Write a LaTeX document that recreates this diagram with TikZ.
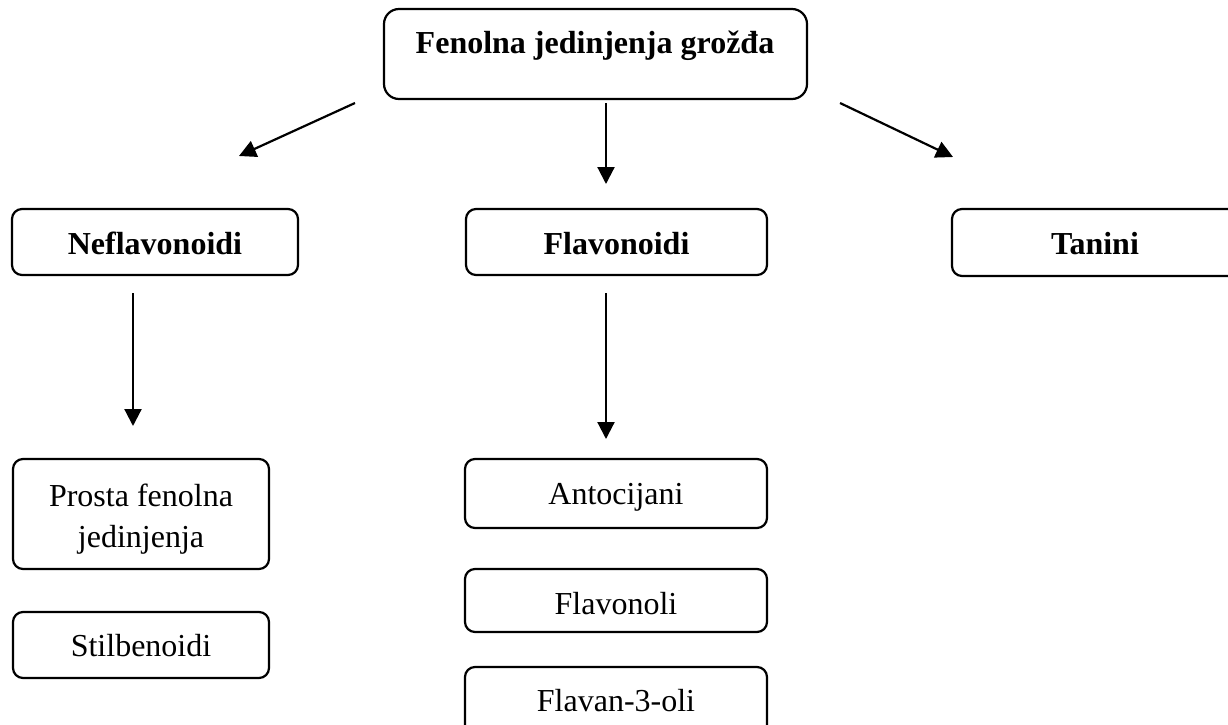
\documentclass[tikz,border=0pt]{standalone}
\usepackage{fontspec}
\setmainfont{Liberation Serif}
\usetikzlibrary{arrows.meta}
\begin{document}
\begin{tikzpicture}[x=1pt,y=-1pt,
  box/.style={draw, line width=2.2pt, rounded corners=10pt, inner sep=0pt},
  txt/.style={anchor=base, inner sep=0pt, font=\fontsize{32}{42}\selectfont},
  btxt/.style={anchor=base, inner sep=0pt, font=\fontsize{32}{42}\selectfont\bfseries},
  arr/.style={line width=2.2pt, -{Triangle[length=17pt,width=17pt]}}]
\useasboundingbox (0,0) rectangle (1228,725);
\clip (0,0) rectangle (1228,725);
% boxes
\node[box, rounded corners=15pt, minimum width=423pt, minimum height=90pt] (top) at (595.5,54) {};
\node[box, minimum width=286pt, minimum height=66pt] (nefl) at (155,242) {};
\node[box, minimum width=301pt, minimum height=66pt] (flav) at (616.5,242) {};
\node[box, minimum width=298pt, minimum height=67pt] (tan) at (1101,242.5) {};
\node[box, minimum width=256pt, minimum height=110pt] (pros) at (141,514) {};
\node[box, minimum width=256pt, minimum height=66pt] (stil) at (141,645) {};
\node[box, minimum width=302pt, minimum height=69pt] (anto) at (616,493.5) {};
\node[box, minimum width=302pt, minimum height=63pt] (fnol) at (616,600.5) {};
\node[box, minimum width=302pt, minimum height=68pt] (fan) at (616,701) {};
% texts
\node[btxt] (ttop) at (595,54) {Fenolna jedinjenja grožđa};
\node[btxt] (tnefl) at (155,254) {Neflavonoidi};
\node[btxt] (tflav) at (616.5,254) {Flavonoidi};
\node[btxt] (ttan) at (1095,254) {Tanini};
\node[txt] (tpros1) at (141,506) {Prosta fenolna};
\node[txt] (tpros2) at (141,547) {jedinjenja};
\node[txt] (tstil) at (141,656) {Stilbenoidi};
\node[txt] (tanto) at (616,504) {Antocijani};
\node[txt] (tfnol) at (616,614) {Flavonoli};
\node[txt] (tfan) at (616,711) {Flavan-3-oli};
% arrows
\coordinate (a1s) at (355,103);
\coordinate (a1e) at (239,156);
\coordinate (a2s) at (606,103);
\coordinate (a2e) at (606,184);
\coordinate (a3s) at (840,103);
\coordinate (a3e) at (953,157);
\coordinate (a4s) at (133,293);
\coordinate (a4e) at (133,426);
\coordinate (a5s) at (606,293);
\coordinate (a5e) at (606,439);
\draw[arr] (a1s) -- (a1e);
\draw[arr] (a2s) -- (a2e);
\draw[arr] (a3s) -- (a3e);
\draw[arr] (a4s) -- (a4e);
\draw[arr] (a5s) -- (a5e);
\end{tikzpicture}
\end{document}
